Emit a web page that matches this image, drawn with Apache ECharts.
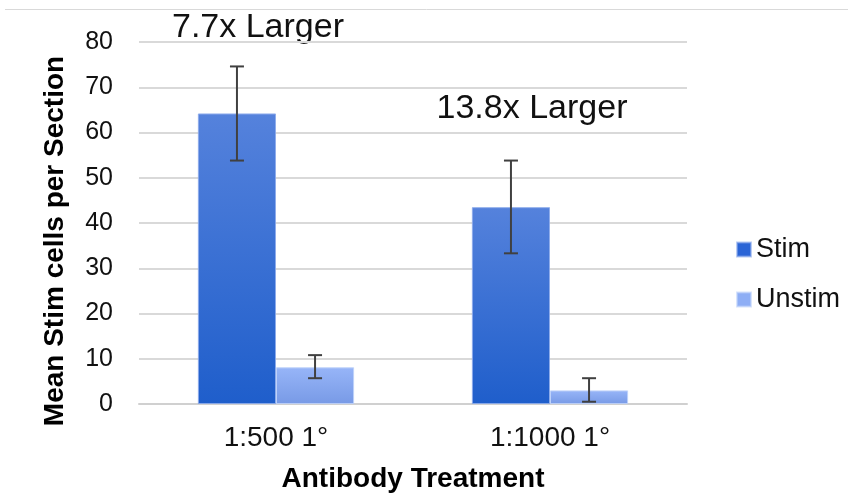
<!DOCTYPE html>
<html>
<head>
<meta charset="utf-8">
<script src="https://cdn.jsdelivr.net/npm/echarts@6/dist/echarts.min.js"></script>
<style>
html,body{margin:0;padding:0;background:#fff;}
#chart{width:848px;height:493px;}
</style>
</head>
<body>
<div id="chart"></div>
<script>
const categories = ['1:500 1°', '1:1000 1°'];
const stimValues = [64.2, 43.5];
const unstimValues = [8.1, 3.0];
const stimErrLow = [53.8, 33.3];
const stimErrHigh = [74.6, 53.8];
const unstimErrLow = [5.7, 0.5];
const unstimErrHigh = [10.8, 5.7];
const yTicks = { min: 0, max: 80, interval: 10 };
const annotations = [
  { text: '7.7x Larger', cat: 0 },
  { text: '13.8x Larger', cat: 1 }
];

const FONT = '"Liberation Sans", Arial, sans-serif';
const CAT_GAP = 0.43;

const chart = echarts.init(document.getElementById('chart'), null, { renderer: 'canvas' });

function errorSeries(name, low, high, side) {
  return {
    type: 'custom',
    name: name + ' err',
    z: 10,
    silent: true,
    data: low.map((l, i) => [i, l, high[i]]),
    renderItem: function (params, api) {
      const catW = api.size([1, 0])[0];
      const barW = catW * (1 - CAT_GAP) / 2;
      const c = api.coord([api.value(0), 0]);
      const x = c[0] + side * barW / 2;
      const yl = api.coord([api.value(0), api.value(1)])[1];
      const yh = api.coord([api.value(0), api.value(2)])[1];
      const cap = 7;
      const style = { stroke: '#404040', lineWidth: 2 };
      return {
        type: 'group',
        children: [
          { type: 'line', shape: { x1: x, y1: yl, x2: x, y2: yh }, style: style },
          { type: 'line', shape: { x1: x - cap, y1: yh, x2: x + cap, y2: yh }, style: style },
          { type: 'line', shape: { x1: x - cap, y1: yl, x2: x + cap, y2: yl }, style: style }
        ]
      };
    }
  };
}

const option = {
  animation: false,
  backgroundColor: '#ffffff',
  grid: { left: 139, right: 161, top: 42, bottom: 89, containLabel: false, outerBoundsMode: 'none' },
  legend: {
    orient: 'vertical',
    left: 731,
    top: 231,
    itemWidth: 14,
    itemHeight: 14,
    itemGap: 23,
    textStyle: { fontFamily: FONT, fontSize: 27, color: '#111' },
    data: [
      { name: 'Stim', icon: 'rect', itemStyle: { color: '#2a64d6' } },
      { name: 'Unstim', icon: 'rect', itemStyle: { color: '#8eaef5' } }
    ]
  },
  xAxis: {
    type: 'category',
    data: categories,
    axisTick: { show: false },
    axisLine: { lineStyle: { color: '#d0d0d0', width: 2 } },
    axisLabel: { fontFamily: FONT, fontSize: 28, color: '#111', margin: 20 },
    name: 'Antibody Treatment',
    nameLocation: 'middle',
    nameGap: 61,
    nameTextStyle: { fontFamily: FONT, fontSize: 28, fontWeight: 'bold', color: '#000' }
  },
  yAxis: {
    type: 'value',
    min: yTicks.min,
    max: yTicks.max,
    interval: yTicks.interval,
    axisLine: { show: false },
    axisTick: { show: false },
    splitLine: { lineStyle: { color: '#d9d9d9', width: 2 } },
    axisLabel: { fontFamily: FONT, fontSize: 25, color: '#111', margin: 26 }
  },
  series: [
    {
      name: 'Stim',
      type: 'bar',
      data: stimValues,
      barGap: '0%',
      barCategoryGap: (CAT_GAP * 100) + '%',
      itemStyle: {
        color: new echarts.graphic.LinearGradient(0, 0, 0, 1, [
          { offset: 0, color: '#5582dc' },
          { offset: 1, color: '#1f5ecb' }
        ]),
        borderColor: 'rgba(140,170,235,0.6)',
        borderWidth: 1
      }
    },
    {
      name: 'Unstim',
      type: 'bar',
      data: unstimValues,
      itemStyle: {
        color: new echarts.graphic.LinearGradient(0, 0, 0, 1, [
          { offset: 0, color: '#97b5f8' },
          { offset: 1, color: '#789ae6' }
        ]),
        borderColor: 'rgba(190,210,250,0.6)',
        borderWidth: 1
      }
    },
    errorSeries('Stim', stimErrLow, stimErrHigh, -1),
    errorSeries('Unstim', unstimErrLow, unstimErrHigh, 1)
  ],
  graphic: [
    {
      type: 'line',
      shape: { x1: 5, y1: 9.5, x2: 848, y2: 9.5 },
      style: { stroke: '#d9d9d9', lineWidth: 1 }
    },
    {
      type: 'text',
      x: 55, y: 241,
      rotation: Math.PI / 2,
      style: {
        text: 'Mean Stim cells per Section',
        font: 'bold 28px ' + FONT,
        fill: '#000',
        align: 'center',
        verticalAlign: 'middle'
      }
    }
  ]
};

chart.setOption(option);

// annotation texts placed above category groups via the axis scale
const annoY = [28, 109];
const annoGraphics = annotations.map((a, i) => {
  const px = chart.convertToPixel({ xAxisIndex: 0 }, categories[a.cat]);
  return {
    type: 'text',
    x: px - 18,
    y: annoY[i],
    style: {
      text: a.text,
      font: '34px ' + FONT,
      fill: '#111',
      align: 'center',
      verticalAlign: 'middle'
    }
  };
});
chart.setOption({ graphic: option.graphic.concat(annoGraphics) });
</script>
</body>
</html>
